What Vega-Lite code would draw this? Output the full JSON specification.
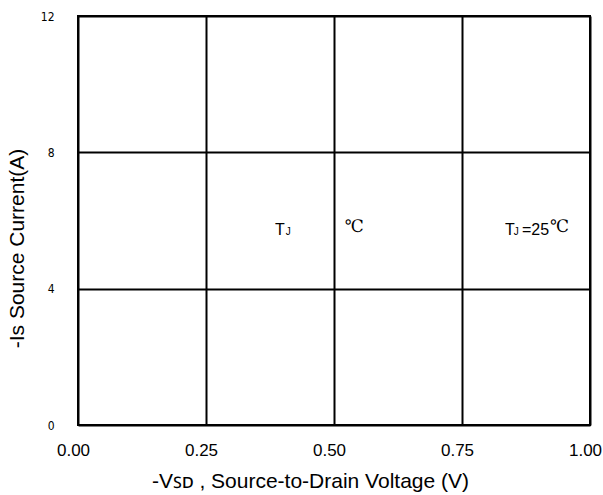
{
  "$schema": "https://vega.github.io/schema/vega-lite/v6.json",
  "width": 512,
  "height": 409,
  "autosize": {"type": "none"},
  "padding": {"left": 78, "top": 16, "right": 13, "bottom": 70},
  "config": {
    "font": "Liberation Sans",
    "view": {"stroke": "black", "strokeWidth": 2}
  },
  "data": {
    "values": [
      {"x": 0.385, "y": 5.58, "t": "T", "kind": "main"},
      {"x": 0.406, "y": 5.58, "t": "J", "kind": "sub"},
      {"x": 0.521, "y": 5.66, "t": "℃", "kind": "unit"},
      {"x": 0.834, "y": 5.58, "t": "T", "kind": "main"},
      {"x": 0.851, "y": 5.58, "t": "J", "kind": "sub"},
      {"x": 0.867, "y": 5.58, "t": "=25", "kind": "main"},
      {"x": 0.922, "y": 5.66, "t": "℃", "kind": "unit"}
    ]
  },
  "encoding": {
    "x": {
      "field": "x",
      "type": "quantitative",
      "scale": {"domain": [0, 1], "nice": false, "zero": false},
      "axis": {
        "values": [0, 0.25, 0.5, 0.75, 1],
        "format": ".2f",
        "title": "-Vꜱᴅ , Source-to-Drain Voltage (V)",
        "domain": false,
        "ticks": false,
        "grid": true,
        "gridColor": "black",
        "gridWidth": 2,
        "gridOpacity": 1,
        "labelFont": "Liberation Sans",
        "labelFontSize": 17,
        "labelColor": "black",
        "labelPadding": 17,
        "labelOffset": -5,
        "labelFlush": false,
        "titleFont": "Liberation Sans",
        "titleFontSize": 21,
        "titleFontWeight": "normal",
        "titleColor": "black",
        "titleX": 232,
        "titleY": 62,
        "titleAlign": "center",
        "titleBaseline": "alphabetic"
      }
    },
    "y": {
      "field": "y",
      "type": "quantitative",
      "scale": {"domain": [0, 12], "nice": false, "zero": false},
      "axis": {
        "values": [0, 4, 8, 12],
        "title": "-Is Source Current(A)",
        "domain": false,
        "ticks": false,
        "grid": true,
        "gridColor": "black",
        "gridWidth": 2,
        "gridOpacity": 1,
        "labelFont": "Liberation Sans Narrow, DejaVu Sans Condensed",
        "labelFontSize": 12,
        "labelColor": "black",
        "labelPadding": 24,
        "labelFlush": false,
        "titleFont": "Liberation Sans",
        "titleFontSize": 21,
        "titleFontWeight": "normal",
        "titleColor": "black",
        "titleX": -55,
        "titleY": 232,
        "titleAlign": "center",
        "titleBaseline": "alphabetic"
      }
    },
    "text": {"field": "t"}
  },
  "layer": [
    {
      "transform": [{"filter": "datum.kind === 'main'"}],
      "mark": {"type": "text", "align": "left", "baseline": "alphabetic", "fontSize": 16, "color": "black", "font": "Liberation Sans"}
    },
    {
      "transform": [{"filter": "datum.kind === 'sub'"}],
      "mark": {"type": "text", "align": "left", "baseline": "alphabetic", "fontSize": 10, "color": "black", "font": "Liberation Sans"}
    },
    {
      "transform": [{"filter": "datum.kind === 'unit'"}],
      "mark": {"type": "text", "align": "left", "baseline": "alphabetic", "fontSize": 17, "color": "black", "font": "DejaVu Serif, Noto Sans CJK SC"}
    }
  ]
}
